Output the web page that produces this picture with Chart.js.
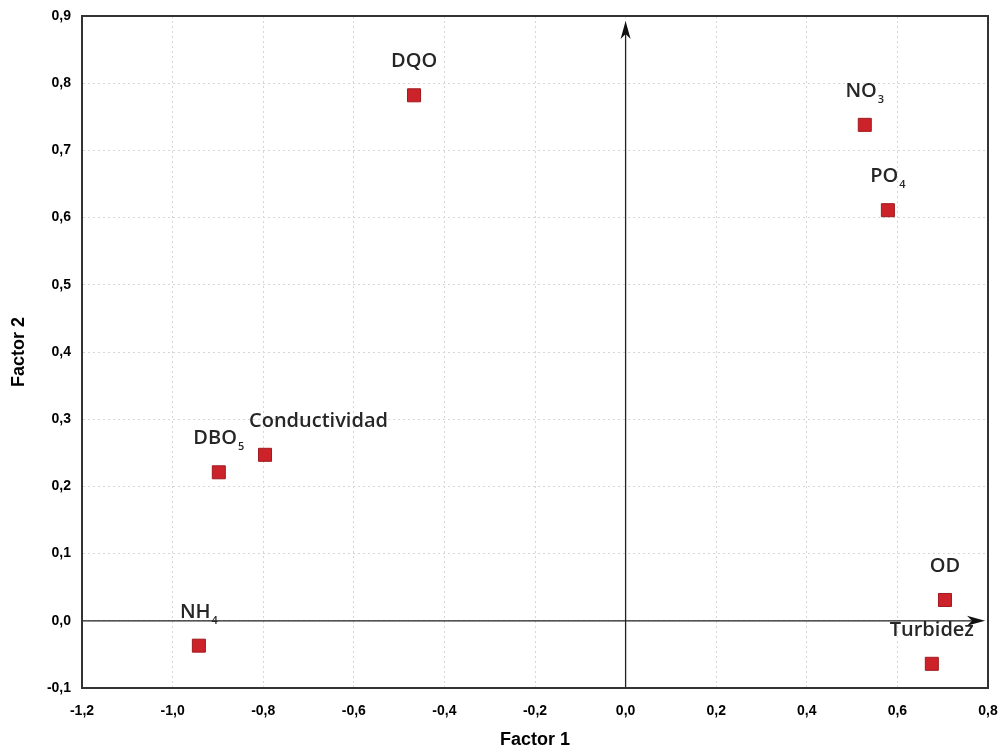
<!DOCTYPE html>
<html>
<head>
<meta charset="utf-8">
<script src="https://cdn.jsdelivr.net/npm/chart.js@4/dist/chart.umd.min.js"></script>
<style>
  html, body { margin: 0; padding: 0; background: #ffffff; }
  #wrap { width: 999px; height: 753px; position: relative; }
</style>
</head>
<body>
<div id="wrap"><canvas id="c" width="999" height="753"></canvas></div>
<script>
// ---- data ----
const variableNames = ['DQO', 'NO', 'PO', 'Conductividad', 'DBO', 'NH', 'OD', 'Turbidez'];
const nameSubscripts = ['', '3', '4', '', '5', '4', '', ''];
const factor1 = [-0.467, 0.528, 0.579, -0.796, -0.898, -0.942, 0.705, 0.676];
const factor2 = [0.782, 0.738, 0.611, 0.247, 0.221, -0.037, 0.031, -0.064];
const xTickValues = [-1.2, -1.0, -0.8, -0.6, -0.4, -0.2, 0.0, 0.2, 0.4, 0.6, 0.8];
const yTickValues = [-0.1, 0.0, 0.1, 0.2, 0.3, 0.4, 0.5, 0.6, 0.7, 0.8, 0.9];
const xTitle = 'Factor 1';
const yTitle = 'Factor 2';

// label placement style ('center' above point, or 'left' starting left of point)
const labelAnchor = ['center', 'center', 'center', 'left', 'center', 'center', 'center', 'center'];

const fmt = v => (Math.round(v * 10) / 10).toFixed(1).replace('.', ',').replace('-0,0', '0,0');

const points = factor1.map((x, i) => ({ x: x, y: factor2[i] }));

function arrowHead(ctx, x, y, dir) {
  ctx.save();
  ctx.translate(x, y);
  if (dir === 'right') ctx.rotate(Math.PI / 2);
  ctx.beginPath();
  ctx.moveTo(0, 0);
  ctx.lineTo(5, 18);
  ctx.lineTo(0, 13);
  ctx.lineTo(-5, 18);
  ctx.closePath();
  ctx.fillStyle = '#111';
  ctx.fill();
  ctx.restore();
}

const overlay = {
  id: 'overlay',
  beforeDatasetsDraw(chart) {
    const { ctx, chartArea: a, scales: { x, y } } = chart;
    const x0 = x.getPixelForValue(0);
    const y0 = y.getPixelForValue(0);
    ctx.save();
    ctx.strokeStyle = '#222';
    ctx.lineWidth = 1.3;
    ctx.beginPath();
    ctx.moveTo(x0, a.bottom);
    ctx.lineTo(x0, a.top + 10);
    ctx.moveTo(a.left, y0);
    ctx.lineTo(a.right - 8, y0);
    ctx.stroke();
    arrowHead(ctx, x0, a.top + 5, 'up');
    arrowHead(ctx, a.right - 3, y0, 'right');
    ctx.restore();
  },
  afterDatasetsDraw(chart) {
    const { ctx } = chart;
    const meta = chart.getDatasetMeta(0);
    ctx.save();
    ctx.fillStyle = '#262626';
    meta.data.forEach((el, i) => {
      const main = variableNames[i];
      const sub = nameSubscripts[i];
      ctx.font = '600 20px "Open Sans"';
      const w1 = ctx.measureText(main).width;
      ctx.font = '600 11px "Open Sans"';
      const w2 = sub ? ctx.measureText(sub).width + 1 : 0;
      let left;
      if (labelAnchor[i] === 'left') left = el.x - 16;
      else left = el.x - (w1 + w2) / 2;
      const base = el.y - 28;
      ctx.textBaseline = 'alphabetic';
      ctx.textAlign = 'left';
      ctx.font = '600 20px "Open Sans"';
      ctx.fillText(main, left, base);
      if (sub) {
        ctx.font = '600 11px "Open Sans"';
        ctx.fillText(sub, left + w1 + 1, base + 6);
      }
    });
    ctx.restore();
  }
};

const gridStyle = {
  drawTicks: false,
  color: '#d6d6d6',
  lineWidth: 1
};

new Chart(document.getElementById('c'), {
  type: 'scatter',
  data: {
    datasets: [{
      data: points,
      pointStyle: 'rect',
      pointRadius: 9.2,
      pointHoverRadius: 9.2,
      backgroundColor: '#cc2229',
      borderColor: '#a01a1f',
      borderWidth: 1
    }]
  },
  options: {
    responsive: false,
    animation: false,
    events: [],
    layout: { padding: { top: 16, right: 11, left: 0, bottom: 0 } },
    plugins: { legend: { display: false }, tooltip: { enabled: false } },
    scales: {
      x: {
        type: 'linear',
        min: -1.2, max: 0.8,
        afterBuildTicks: s => { s.ticks = xTickValues.map(v => ({ value: v })); },
        afterFit: s => { s.height = 65; s.paddingLeft = 0; s.paddingRight = 0; },
        ticks: {
          callback: v => fmt(v),
          font: { family: '"Liberation Sans", Arial', size: 14, weight: 'bold' },
          color: '#000',
          padding: 15,
          maxRotation: 0
        },
        grid: gridStyle,
        border: { display: true, color: '#333', width: 2, dash: [2, 3], dashOffset: 0 },
        title: {
          display: true, text: xTitle, color: '#000',
          font: { family: '"Liberation Sans", Arial', size: 18, weight: 'bold' },
          padding: { top: 0, bottom: 2 }
        }
      },
      y: {
        type: 'linear',
        min: -0.1, max: 0.9,
        afterBuildTicks: s => { s.ticks = yTickValues.map(v => ({ value: v })); },
        afterFit: s => { s.width = 82; s.paddingTop = 0; s.paddingBottom = 0; },
        ticks: {
          callback: v => fmt(v),
          font: { family: '"Liberation Sans", Arial', size: 14, weight: 'bold' },
          color: '#000',
          padding: 11
        },
        grid: gridStyle,
        border: { display: true, color: '#333', width: 2, dash: [2, 3] },
        title: {
          display: true, text: yTitle, color: '#000',
          font: { family: '"Liberation Sans", Arial', size: 18, weight: 'bold' },
          padding: { top: 8, bottom: 0 }
        }
      }
    }
  },
  plugins: [overlay, {
    id: 'frame',
    afterDraw(chart) {
      const { ctx, chartArea: a } = chart;
      ctx.save();
      ctx.strokeStyle = '#333';
      ctx.lineCap = 'square';
      ctx.lineWidth = 2;
      ctx.beginPath();
      ctx.moveTo(a.left, a.bottom);
      ctx.lineTo(a.left, a.top);
      ctx.lineTo(a.right, a.top);
      ctx.lineTo(a.right, a.bottom);
      ctx.lineTo(a.left, a.bottom);
      ctx.stroke();
      ctx.restore();
    }
  }]
});
</script>
</body>
</html>
